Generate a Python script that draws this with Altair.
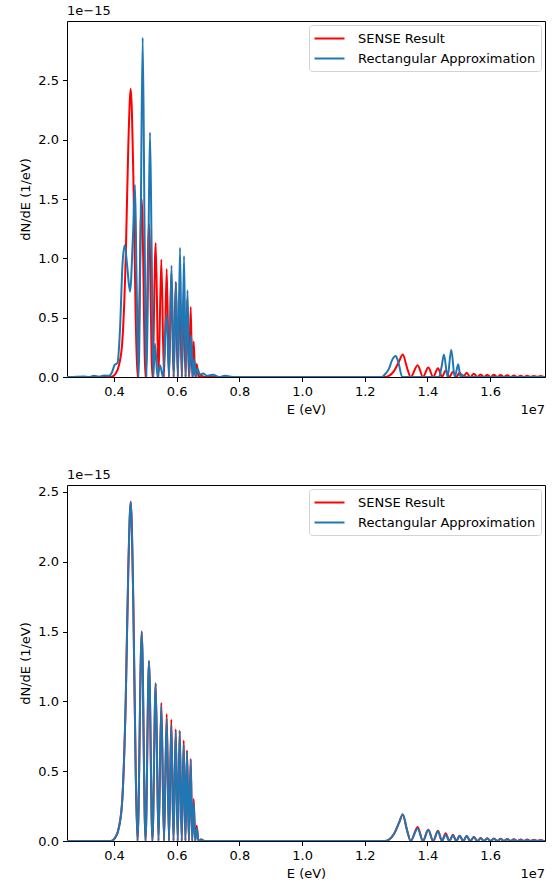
import altair as alt
import pandas as pd

# ---- data (E in units of 1e7 eV, dN/dE in units of 1e-15 1/eV) ----
E_DOMAIN = [0.25, 1.775]
X_TICKS = [0.4, 0.6, 0.8, 1.0, 1.2, 1.4, 1.6]
Y_TICKS = [0.0, 0.5, 1.0, 1.5, 2.0, 2.5]
SERIES = ["SENSE Result", "Rectangular Approximation"]
COLORS = ["#ff0000", "#1f77b4"]
Y_MAX_TOP = 3.0
Y_MAX_BOTTOM = 2.55

sense = [
    (0.25, 0), (0.390, 0), (0.4054, 0.03), (0.4159, 0.10), (0.4265, 0.30), (0.4373, 1.00),
    (0.4456, 1.95), (0.4533, 2.43), (0.4616, 1.70), (0.4692, 0.50), (0.4750, 0),
    (0.4884, 1.50), (0.5005, 0), (0.5116, 1.29), (0.5225, 0), (0.5330, 1.13), (0.5419, 0),
    (0.5509, 0.99), (0.5595, 0), (0.5681, 0.91), (0.5754, 0), (0.5828, 0.87), (0.5898, 0),
    (0.5968, 0.80), (0.6032, 0), (0.6096, 0.79), (0.6160, 0), (0.6223, 0.72), (0.6278, 0),
    (0.6329, 0.65), (0.6389, 0), (0.6447, 0.59), (0.6495, 0), (0.6542, 0.30), (0.6590, 0),
    (0.6638, 0.11), (0.6695, 0), (0.6775, 0.01), (0.6903, 0),
    (1.2644, 0), (1.2772, 0.01), (1.2931, 0.05), (1.3091, 0.13), (1.3212, 0.19), (1.3346, 0.08),
    (1.3464, 0), (1.3687, 0.10), (1.3856, 0), (1.4026, 0.08), (1.4182, 0), (1.4335, 0.074),
    (1.4463, 0), (1.4581, 0.055), (1.4699, 0), (1.4813, 0.045), (1.4922, 0), (1.5027, 0.038),
    (1.5139, 0), (1.5250, 0.035), (1.5365, 0), (1.5483, 0.028), (1.5592, 0), (1.5697, 0.022),
    (1.5802, 0), (1.5908, 0.020), (1.6013, 0), (1.6121, 0.018), (1.6226, 0), (1.6335, 0.016),
    (1.6440, 0), (1.6545, 0.014), (1.6650, 0), (1.6759, 0.012), (1.6864, 0), (1.6973, 0.011),
    (1.7078, 0), (1.7183, 0.010), (1.7289, 0), (1.7397, 0.009), (1.7502, 0), (1.7611, 0.008),
    (1.7716, 0), (1.775, 0.002),
]

rect_top = [
    (0.25, 0), (0.2565, 0), (0.3043, 0.005), (0.3200, 0), (0.3362, 0.01), (0.3522, 0.003),
    (0.3681, 0.012), (0.3841, 0.01), (0.3936, 0.04), (0.4016, 0.10), (0.4112, 0.12),
    (0.4191, 0.40), (0.4271, 0.95), (0.4341, 1.11), (0.4415, 0.95), (0.4510, 0.72),
    (0.4606, 1.20), (0.4670, 1.62), (0.4721, 0.80), (0.4781, 0), (0.4848, 1.20),
    (0.4915, 2.86), (0.4976, 1.20), (0.5037, 0), (0.5094, 1.00), (0.5148, 2.06),
    (0.5203, 1.00), (0.5254, 0), (0.5308, 0.28), (0.5388, 0), (0.5467, 0.10), (0.5563, 0),
    (0.5675, 0.53), (0.5754, 0), (0.5834, 0.94), (0.5907, 0), (0.5978, 0.80), (0.6041, 0),
    (0.6105, 1.09), (0.6169, 0), (0.6233, 1.02), (0.6290, 0), (0.6344, 0.73), (0.6402, 0),
    (0.6463, 0.35), (0.6514, 0), (0.6561, 0.15), (0.6609, 0), (0.6663, 0.07), (0.6743, 0.02),
    (0.6839, 0.03), (0.6967, 0.01), (0.7158, 0.02), (0.7349, 0), (0.7541, 0.01), (0.7828, 0),
    (1.2549, 0), (1.2667, 0.03), (1.2772, 0.07), (1.2868, 0.14), (1.2986, 0.176),
    (1.3075, 0.12), (1.3196, 0), (1.4367, 0), (1.4447, 0.08), (1.4526, 0.19), (1.4641, 0),
    (1.4759, 0.23), (1.4871, 0), (1.4982, 0.107), (1.5053, 0), (1.5110, 0.02), (1.5196, 0),
    (1.775, 0),
]

rect_bottom = [
    (0.25, 0), (0.390, 0), (0.4054, 0.03), (0.4159, 0.10), (0.4265, 0.30), (0.4373, 1.00),
    (0.4456, 1.95), (0.4533, 2.43), (0.4616, 1.70), (0.4692, 0.50), (0.4750, 0),
    (0.4884, 1.50), (0.5005, 0), (0.5116, 1.29), (0.5225, 0), (0.5330, 1.13), (0.5419, 0),
    (0.5509, 0.97), (0.5595, 0), (0.5681, 0.88), (0.5754, 0), (0.5828, 0.83), (0.5898, 0),
    (0.5968, 0.78), (0.6032, 0), (0.6096, 0.79), (0.6160, 0), (0.6223, 0.69), (0.6278, 0),
    (0.6329, 0.64), (0.6389, 0), (0.6447, 0.58), (0.6495, 0), (0.6542, 0.28), (0.6590, 0),
    (0.6638, 0.09), (0.6695, 0), (0.6775, 0.01), (0.6903, 0),
    (1.2644, 0), (1.2772, 0.01), (1.2931, 0.05), (1.3091, 0.13), (1.3212, 0.19), (1.3346, 0.08),
    (1.3464, 0), (1.3687, 0.09), (1.3856, 0), (1.4026, 0.08), (1.4182, 0), (1.4335, 0.07),
    (1.4463, 0), (1.4581, 0.045), (1.4699, 0), (1.4813, 0.04), (1.4922, 0), (1.5027, 0.038),
    (1.5139, 0), (1.5250, 0.035), (1.5365, 0), (1.5483, 0.026), (1.5592, 0), (1.5697, 0.02),
    (1.5802, 0), (1.5908, 0.018), (1.6013, 0), (1.6121, 0.016), (1.6226, 0), (1.6335, 0.014),
    (1.6440, 0), (1.6545, 0.012), (1.6650, 0), (1.6759, 0.010), (1.6864, 0), (1.6973, 0.009),
    (1.7078, 0), (1.7183, 0.008), (1.7289, 0), (1.7397, 0.007), (1.7502, 0), (1.7611, 0.006),
    (1.7716, 0), (1.775, 0.001),
]

W, H = 478, 356
FONT = "DejaVu Sans"


def frame(pairs, name):
    return pd.DataFrame({"E": [p[0] for p in pairs], "N": [p[1] for p in pairs], "series": name})


def panel(rect_pairs, ymax):
    color = alt.Color(
        "series:N",
        scale=alt.Scale(domain=SERIES, range=COLORS),
        legend=alt.Legend(
            title=None, orient="top-right", offset=4, symbolType="M-2,0H2",
            symbolSize=225, symbolOffset=7, symbolStrokeWidth=2, labelFontSize=13,
            labelFont=FONT, labelColor="black", labelOffset=20, padding=5,
            strokeColor="#d3d3d3", fillColor="white", cornerRadius=3, rowPadding=4,
            labelLimit=0,
        ),
    )
    x = alt.X("E:Q", scale=alt.Scale(domain=E_DOMAIN, nice=False, zero=False),
              axis=alt.Axis(values=X_TICKS, format=".1f", title="E (eV)"))
    y = alt.Y("N:Q", scale=alt.Scale(domain=[0, ymax], nice=False),
              axis=alt.Axis(values=Y_TICKS, format=".1f", title="dN/dE (1/eV)"))
    red = alt.Chart(frame(sense, SERIES[0])).mark_line(
        interpolate="monotone", strokeWidth=2, clip=True).encode(x=x, y=y, color=color)
    blue = alt.Chart(frame(rect_pairs, SERIES[1])).mark_line(
        interpolate="monotone", strokeWidth=2, clip=True).encode(x=x, y=y, color=color)
    one = pd.DataFrame({"k": [0]})
    exp_y = alt.Chart(one).mark_text(align="left", baseline="middle", fontSize=13, font=FONT,
                                     color="black").encode(
        x=alt.value(0), y=alt.value(-10), text=alt.value("1e\u221215"))
    exp_x = alt.Chart(one).mark_text(align="right", baseline="middle", fontSize=13, font=FONT,
                                     color="black").encode(
        x=alt.value(W), y=alt.value(H + 33), text=alt.value("1e7"))
    return alt.layer(red, blue, exp_y, exp_x).properties(width=W, height=H)


top = panel(rect_top, Y_MAX_TOP)
bottom = panel(rect_bottom, Y_MAX_BOTTOM)

chart = (
    alt.vconcat(top, bottom, spacing=108, bounds="flush")
    .resolve_scale(x="independent", y="independent", color="independent")
    .resolve_legend(color="independent")
    .properties(padding={"left": 19, "top": 4, "right": 8, "bottom": 5}, background="white")
    .configure_view(stroke="black", strokeWidth=1)
    .configure_axis(
        domain=False, grid=False, tickColor="black", tickSize=4.5, tickWidth=1,
        labelFont=FONT, labelFontSize=13, labelColor="black", labelPadding=4,
        titleFont=FONT, titleFontSize=13, titleFontWeight="normal", titleColor="black",
        titlePadding=5,
    )
)

chart.save("out.html", embed_options={"renderer": "svg", "actions": False})
